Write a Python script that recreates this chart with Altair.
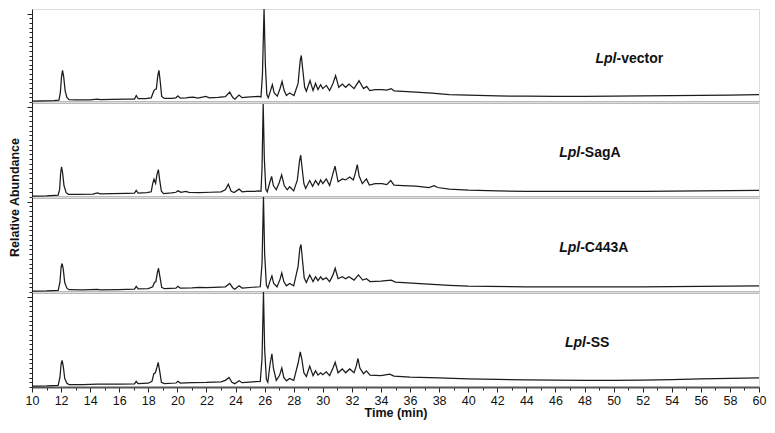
import altair as alt
import pandas as pd
import numpy as np

FONT = "Liberation Sans"

panel_names = ["vector", "SagA", "C443A", "SS"]

t_vector = [10.0, 10.8, 11.5, 11.85, 11.95, 12.03, 12.1, 12.18, 12.28, 12.4, 12.55, 13.0, 14.0, 14.5, 14.7, 15.5, 16.5,
            17.05, 17.17, 17.3, 17.8, 18.2, 18.38, 18.45, 18.55, 18.65, 18.73, 18.82, 18.92, 19.1, 19.6, 19.9, 20.04,
            20.2, 20.6, 20.8, 21.1, 21.4, 21.95, 22.2, 22.8, 23.3, 23.6, 23.8, 23.95, 24.24, 24.45, 24.8, 25.3, 25.6,
            25.75, 25.85, 25.96, 26.05, 26.15, 26.25, 26.4, 26.53, 26.65, 26.87, 27.05, 27.2, 27.35, 27.5, 27.72,
            28.02, 28.3, 28.45, 28.52, 28.62, 28.75, 28.87, 29.12, 29.33, 29.5, 29.67, 29.85, 30.0, 30.24, 30.47,
            30.7, 30.88, 31.1, 31.34, 31.57, 31.8, 32.15, 32.49, 32.8, 33.02, 33.23, 33.6, 34.07, 34.4, 34.7, 34.9,
            35.5, 36.4, 37.5, 38.7, 40, 42, 44, 46, 48, 50, 52, 54, 56, 58, 60]
v_vector = [1.0, 1.2, 1.6, 2.0, 10, 27, 34, 27, 12, 5, 2.5, 2.2, 2.4, 3.2, 2.5, 2.7, 3.0,
            3.2, 7, 3.5, 3.6, 4.5, 12, 13.5, 14, 28, 34, 22, 6, 3.8, 4, 4.5, 6.7,
            4.2, 4.5, 5, 5.2, 4.2, 6, 4.5, 5, 5.8, 10.6, 5, 3, 7.4, 4.6, 5.2, 5.8, 6,
            5.5, 30, 100, 40, 8, 4.5, 12, 18.6, 10, 6.3, 14, 22, 12, 7, 9.8,
            7, 20, 45, 50, 35, 16, 11.6, 23, 12.3, 20, 13.4, 18.6, 14.4, 17.9, 12.3,
            20, 28.4, 15.8, 19.3, 15.8, 19.3, 14.4, 22.8, 14.4, 16.8, 12.3, 13.4, 13.4, 12.8, 14.4, 12,
            11.5, 10.5, 9.5, 8, 7.3, 6.5, 6.2, 6, 6, 6.2, 6.5, 6.8, 7.2, 7.5, 7.8]

t_saga = [10, 11, 11.8, 11.9, 11.97, 12.03, 12.1, 12.2, 12.35, 12.5, 13.2, 14.2, 14.5, 14.7, 15.5, 16.5, 17.05,
          17.17, 17.3, 17.9, 18.2, 18.3, 18.39, 18.5, 18.6, 18.69, 18.78, 18.9, 19.05, 19.6, 19.9, 20.04, 20.25,
          20.57, 20.8, 21.5, 22.3, 23.0, 23.3, 23.5, 23.7, 23.9, 24.24, 24.45, 24.8, 25.3, 25.6, 25.75, 25.82,
          25.9, 25.98, 26.08, 26.18, 26.35, 26.48, 26.6, 26.8, 27.0, 27.17, 27.35, 27.55, 27.72, 28.0, 28.25,
          28.4, 28.48, 28.58, 28.7, 28.82, 29.1, 29.3, 29.5, 29.7, 29.85, 30.0, 30.24, 30.47, 30.65, 30.84,
          31.05, 31.34, 31.57, 31.85, 32.1, 32.25, 32.37, 32.5, 32.72, 33.0, 33.2, 33.6, 34.07, 34.4, 34.67,
          34.9, 35.5, 36.4, 37.3, 37.65, 37.9, 38.7, 40, 42, 44, 46, 48, 50, 52, 54, 56, 58, 60]
v_saga = [1, 1.3, 2, 8, 25, 31.8, 26, 12, 4.5, 2.8, 2.8, 3, 4.3, 3.2, 3.5, 3.8, 4,
          6.9, 4.2, 4.5, 5.5, 14, 18.8, 14.4, 24, 28.9, 18, 6, 3.6, 4.4, 5, 6.5, 5,
          5.8, 4.8, 4.7, 5, 5.4, 7.5, 13.4, 6, 4.7, 8.3, 5.5, 6, 6, 6.5, 6, 30,
          98, 40, 8, 5.4, 15, 21.6, 12, 7.6, 15, 23.4, 12, 7.6, 10.8, 6.5, 18,
          38, 44, 30, 14, 9, 17.3, 11.2, 17.3, 12.6, 18, 14, 19, 12, 22, 32.4,
          16, 19, 18, 21, 18, 26, 34, 22, 14, 19, 12.6, 14, 14, 13, 17.3,
          12.5, 12, 11.5, 10, 11.9, 10, 8.3, 7.3, 6.5, 6, 5.8, 5.8, 6, 6, 6.2, 6.5, 6.8, 7]

t_c443a = [10, 11, 11.8, 11.92, 12.0, 12.07, 12.15, 12.25, 12.4, 12.55, 13.5, 14.5, 14.7, 16, 17.05, 17.17, 17.3,
           18.0, 18.3, 18.42, 18.52, 18.62, 18.7, 18.8, 18.92, 19.1, 19.9, 20.04, 20.2, 21, 21.5, 22, 22.5, 23.3,
           23.6, 23.8, 23.95, 24.24, 24.45, 25.2, 25.7, 25.82, 25.92, 26.0, 26.12, 26.22, 26.38, 26.5, 26.62,
           26.85, 27.05, 27.18, 27.32, 27.5, 27.72, 28.0, 28.3, 28.42, 28.5, 28.6, 28.72, 28.87, 29.1, 29.33,
           29.5, 29.67, 29.85, 30.0, 30.24, 30.47, 30.7, 30.85, 31.05, 31.34, 31.57, 31.8, 32.15, 32.45, 32.75,
           33.0, 33.25, 34.0, 34.7, 35, 36.4, 38.7, 40, 44, 48, 52, 56, 60]
v_c443a = [1, 1.2, 1.8, 10, 26, 30, 24, 10, 4, 2.4, 2.3, 2.8, 2.3, 2.6, 3, 6, 3.2,
           3.5, 5.5, 10, 11, 20, 25, 16, 5, 3.5, 4, 6, 4, 4.3, 4.8, 4.5, 4.8, 5.5,
           9, 4.5, 3, 6.5, 4.2, 5, 5.5, 30, 100, 40, 7, 4, 12, 17, 9,
           5.5, 13, 20, 11, 6.5, 9, 6.5, 27, 46, 50, 34, 15, 10, 18, 11,
           16, 12, 16, 13, 15, 11, 18, 25, 14, 16, 14, 16, 12.5, 18, 12.5,
           14, 11, 11.5, 12.5, 10.5, 9, 7, 6.2, 5.5, 5.3, 5.5, 6, 6.5]

t_ss = [10, 11, 11.8, 11.92, 12.0, 12.07, 12.15, 12.25, 12.4, 12.55, 13.5, 14.5, 16, 17.05, 17.17, 17.3, 18,
        18.25, 18.38, 18.48, 18.58, 18.68, 18.78, 18.9, 19.1, 19.9, 20.04, 20.2, 21, 22, 23, 23.3, 23.55, 23.75,
        23.95, 24.24, 24.45, 25.2, 25.7, 25.82, 25.92, 26.0, 26.12, 26.22, 26.38, 26.5, 26.6, 26.8, 27.02,
        27.18, 27.32, 27.5, 27.72, 28.0, 28.3, 28.45, 28.55, 28.7, 28.87, 29.1, 29.33, 29.5, 29.67, 29.85,
        30.0, 30.24, 30.47, 30.7, 30.85, 31.05, 31.34, 31.57, 31.85, 32.15, 32.3, 32.42, 32.55, 32.8, 33.0,
        33.25, 34.0, 34.6, 34.9, 36, 38, 40, 42, 44, 46, 48, 50, 52, 54, 56, 58, 60]
v_ss = [1, 1.2, 1.8, 10, 24, 28, 22, 9, 4, 2.6, 2.5, 3, 3, 3.2, 6, 3.6, 4,
        6, 14, 15, 20, 26, 17, 5, 3.5, 4.2, 6, 4.2, 4.5, 4.8, 5.5, 7, 10, 5,
        3.5, 6.5, 4.5, 5.5, 6, 30, 100, 40, 8, 5, 25, 35, 20, 7, 12,
        20, 10, 6.5, 9, 7, 25, 37, 30, 15, 11, 22, 12, 17, 12.5, 15,
        13, 16, 12, 20, 26, 15, 19, 15, 19, 15, 22, 30, 20, 14, 17,
        12.5, 12, 13.5, 11.5, 10.5, 9.5, 8.5, 8, 7.5, 7.2, 7, 7, 7.3, 7.8, 8.5, 9, 9.5]

times = [t_vector, t_saga, t_c443a, t_ss]
values = [v_vector, v_saga, v_c443a, v_ss]

# label anchor (join point between italic "Lpl" and the rest), in data units
label_t = [50.2, 47.7, 47.7, 48.1]
label_v = [46, 46, 46, 46]

x_tick_values = [float(v) for v in np.arange(10, 60.01, 0.5)]
y_tick_values = [float(v) for v in np.arange(0, 95.01, 5)]

W = 727
heights = [93, 95, 95, 95]

x_scale = alt.Scale(domain=[10, 60], nice=False, zero=False)
y_scale = alt.Scale(domain=[0, 100], nice=False, zero=False)


def make_panel(i):
    last = i == 3
    if last:
        xaxis = alt.Axis(values=x_tick_values, title="Time (min)",
                         labelExpr="datum.value % 2 === 0 ? datum.label : ''",
                         format="d", labelOverlap=False, labelFlush=False,
                         tickSize={"condition": {"test": "datum.value % 2 === 0", "value": 5}, "value": 3},
                         tickColor="#222222", domainColor="#555555", domainWidth=2,
                         labelFont=FONT, labelFontSize=12.5, labelColor="#111111", labelPadding=2,
                         titleFont=FONT, titleFontSize=12.5, titleFontWeight="bold", titleColor="#111111",
                         titlePadding=0, grid=False)
    else:
        xaxis = alt.Axis(values=x_tick_values, title=None, labels=False, ticks=False,
                         domainColor="#777777", domainWidth=2, grid=False)
    if i == 1:
        yaxis = alt.Axis(values=y_tick_values, labels=False, title="Relative Abundance",
                         tickSize={"condition": {"test": "datum.value === 95", "value": 5}, "value": 3},
                         tickColor="#222222", domainColor="#222222", grid=False,
                         titleFont=FONT, titleFontSize=12.5, titleFontWeight="bold", titleColor="#111111",
                         titleY=heights[1], titlePadding=5)
    else:
        yaxis = alt.Axis(values=y_tick_values, labels=False, title=None,
                         tickSize={"condition": {"test": "datum.value === 95", "value": 5}, "value": 3},
                         tickColor="#222222", domainColor="#222222", grid=False)

    df = pd.DataFrame({"t": times[i], "v": values[i]})
    X = alt.X("t:Q", scale=x_scale, axis=xaxis)
    Y = alt.Y("v:Q", scale=y_scale, axis=yaxis)
    line = alt.Chart(df).mark_line(color="#1c1c1c", strokeWidth=1.25, clip=True).encode(x=X, y=Y)

    lab = pd.DataFrame({"t": [label_t[i]], "v": [label_v[i]],
                        "a": ["Lpl"], "b": ["-" + panel_names[i]]})
    lbl_a = alt.Chart(lab).mark_text(align="right", baseline="middle", font=FONT, fontSize=14,
                                     fontWeight="bold", fontStyle="italic", color="#111111").encode(
        x=X, y=Y, text="a:N")
    lbl_b = alt.Chart(lab).mark_text(align="left", baseline="middle", font=FONT, fontSize=14,
                                     fontWeight="bold", color="#111111").encode(
        x=X, y=Y, text="b:N")
    return alt.layer(line, lbl_a, lbl_b).properties(width=W, height=heights[i])


chart = alt.vconcat(*[make_panel(i) for i in range(4)], spacing=0, bounds="flush").properties(
    padding={"left": 0, "top": 0, "right": 0, "bottom": 5}
).configure_view(stroke=None).configure(background="white")

chart.save("out.html", embed_options={"renderer": "svg", "actions": False})
